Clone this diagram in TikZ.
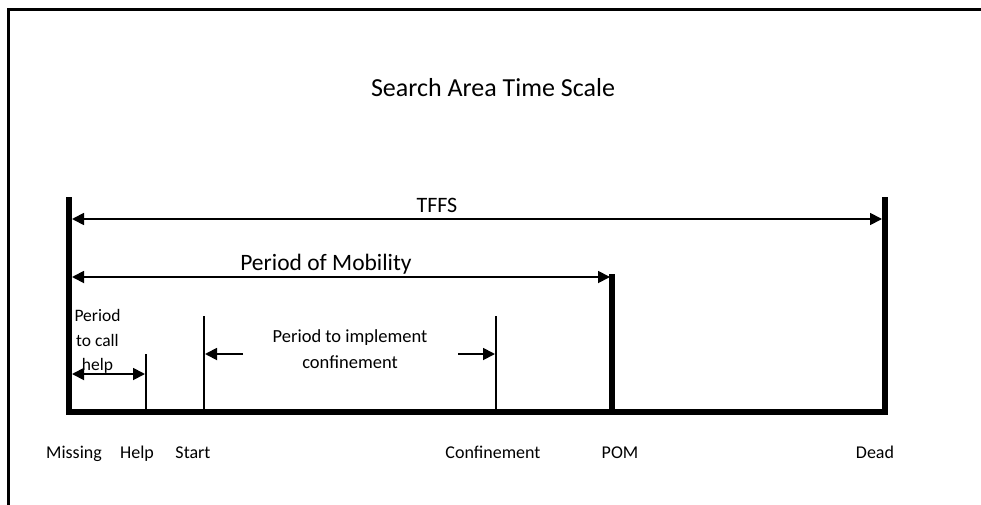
\documentclass[tikz,border=0pt]{standalone}
\usepackage{fontspec}
\setmainfont{Carlito}
\usetikzlibrary{arrows.meta}
\begin{document}
\begin{tikzpicture}[x=1pt,y=-1pt,
  frameline/.style={line width=3pt},
  heavy/.style={line width=6pt, line join=miter, line cap=rect},
  tick/.style={line width=1.8pt},
  dimarrow/.style={line width=1.8pt, -{Triangle[length=12pt,width=12pt]}},
  ddimarrow/.style={line width=1.8pt, {Triangle[length=12pt,width=12pt]}-{Triangle[length=12pt,width=12pt]}},
  lbl/.style={font=\fontsize{18}{22}\selectfont, inner sep=0pt, anchor=base},
]
\useasboundingbox (0,0) rectangle (981,505);
% frame
\coordinate (fa) at (8,505);
\coordinate (fb) at (8,10);
\coordinate (fc) at (981,10);
\draw[frameline] (fa) -- (fb) -- (fc);

% scale points
\coordinate (m0) at (69,200);  \coordinate (m1) at (69,412);
\coordinate (d0) at (885,200); \coordinate (d1) at (885,412);
\coordinate (p0) at (612,277); \coordinate (p1) at (612,412);
\coordinate (h0) at (146,354); \coordinate (h1) at (146,412);
\coordinate (s0) at (204,316); \coordinate (s1) at (204,412);
\coordinate (c0) at (496,316); \coordinate (c1) at (496,412);

\draw[heavy] (m0) -- (m1) -- (d1) -- (d0);
\draw[heavy] (p0) -- (p1);
\draw[tick] (h0) -- (h1);
\draw[tick] (s0) -- (s1);
\draw[tick] (c0) -- (c1);

% arrow end points
\coordinate (tL) at (72,219);  \coordinate (tR) at (882,219);
\coordinate (pmL) at (72,277); \coordinate (pmR) at (610,277);
\coordinate (hL) at (72,374);  \coordinate (hR) at (145,374);
\coordinate (cLa) at (243,354); \coordinate (cLb) at (205,354);
\coordinate (cRa) at (458,354); \coordinate (cRb) at (495,354);

% labels
\node[lbl, font=\fontsize{26}{30}\selectfont] (title) at (493,97) {Search Area Time Scale};
\node[lbl, font=\fontsize{22}{26}\selectfont] (tffs) at (437,212) {TFFS};
\node[lbl, font=\fontsize{23.5}{28}\selectfont] (pom) at (326,270) {Period of Mobility};
\node[inner sep=0pt, anchor=north, align=center, font=\fontsize{17.5}{24.5}\selectfont] (pch) at (97.5,309.5) {Period\\to call\\help};
\node[inner sep=0pt, anchor=north, align=center, font=\fontsize{18.5}{25.5}\selectfont] (pic) at (350,329.5) {Period to implement\\confinement};

\draw[ddimarrow] (tL) -- (tR);
\draw[ddimarrow] (pmL) -- (pmR);
\draw[ddimarrow] (hL) -- (hR);
\draw[dimarrow] (cLa) -- (cLb);
\draw[dimarrow] (cRa) -- (cRb);

\node[lbl] (lmiss) at (74,458) {Missing};
\node[lbl] (lhelp) at (137,458) {Help};
\node[lbl] (lstart) at (193,458) {Start};
\node[lbl] (lconf) at (493,458) {Confinement};
\node[lbl] (lpom) at (620,458) {POM};
\node[lbl] (ldead) at (875,458) {Dead};
\end{tikzpicture}
\end{document}
